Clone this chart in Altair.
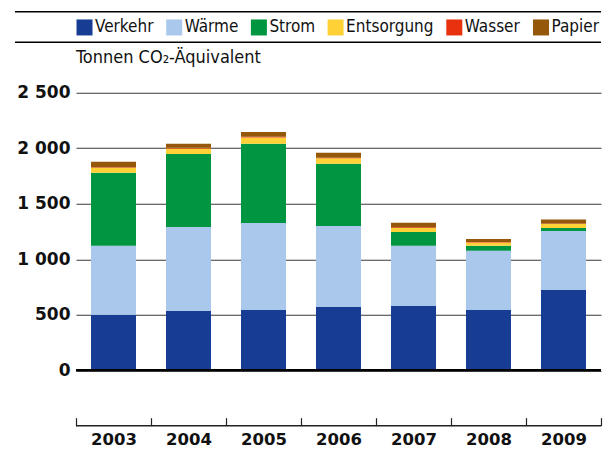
import altair as alt
import pandas as pd

years = ["2003", "2004", "2005", "2006", "2007", "2008", "2009"]
categories = ["Verkehr", "Wärme", "Strom", "Entsorgung", "Wasser", "Papier"]
colors = ["#173C94", "#AAC8EB", "#009540", "#FED136", "#E8320F", "#95570A"]

verkehr = [500, 535, 543, 570, 579, 543, 723]
waerme = [620, 755, 784, 730, 541, 532, 532]
strom = [658, 658, 712, 559, 126, 45, 27]
entsorgung = [45, 50, 58, 50, 36, 30, 36]
wasser = [5, 5, 5, 5, 6, 6, 3]
papier = [50, 37, 45, 45, 40, 27, 36]

y_ticks = [0, 500, 1000, 1500, 2000, 2500]
unit_label = "Tonnen CO₂-Äquivalent"

series = [verkehr, waerme, strom, entsorgung, wasser, papier]
rows = []
for ci, (cat, vals) in enumerate(zip(categories, series)):
    for y, v in zip(years, vals):
        rows.append({"Jahr": y, "Kategorie": cat, "Wert": v, "ord": ci})
df = pd.DataFrame(rows)

COND = "DejaVu Sans Condensed, Liberation Sans Narrow, DejaVu Sans, sans-serif"
BOLD = "DejaVu Sans"

W, H = 525, 333

bars = alt.Chart(df).mark_bar(size=45).encode(
    x=alt.X("Jahr:N", sort=years, title=None,
            scale=alt.Scale(paddingInner=0, paddingOuter=0),
            axis=alt.Axis(orient="bottom", domain=False, tickBand="extent",
                          tickSize=8, tickColor="#222", tickWidth=1.2,
                          offset=-8, labelAngle=0, labelPadding=6,
                          labelFont=BOLD, labelFontWeight="bold",
                          labelFontSize=16.5, labelColor="#111")),
    y=alt.Y("sum(Wert):Q", stack="zero", title=None,
            scale=alt.Scale(domain=[-500, 2500], nice=False, zero=False),
            axis=alt.Axis(values=y_ticks, domain=False, ticks=False, tickSize=0,
                          grid=True, gridColor="#3a3a3a", gridWidth=1.1,
                          labelPadding=6, labelFont=BOLD, labelFontWeight="bold",
                          labelFontSize=17, labelColor="#111",
                          labelExpr="replace(format(datum.value, ','), ',', ' ')")),
    color=alt.Color("Kategorie:N",
                    scale=alt.Scale(domain=categories, range=colors),
                    legend=alt.Legend(orient="none", legendX=0, legendY=-74,
                                      direction="horizontal", title=None,
                                      symbolType="square", symbolSize=256,
                                      symbolStrokeWidth=0, symbolOpacity=1,
                                      labelFont=COND, labelFontSize=17,
                                      labelColor="#111", labelOffset=2,
                                      columnPadding=11.7, labelLimit=200)),
    order=alt.Order("ord:Q", sort="ascending"),
)

one = pd.DataFrame({"v": [0]})

zero_rule = alt.Chart(one).mark_rule(color="#000", strokeWidth=2.5).encode(
    y=alt.datum(0), x=alt.value(0), x2=alt.value(W))
bottom_rule = alt.Chart(one).mark_rule(color="#222", strokeWidth=1.4).encode(
    y=alt.value(H), x=alt.value(0), x2=alt.value(W))
top_rule1 = alt.Chart(one).mark_rule(color="#000", strokeWidth=1.4).encode(
    y=alt.value(-81), x=alt.value(-61), x2=alt.value(W))
top_rule2 = alt.Chart(one).mark_rule(color="#000", strokeWidth=1.4).encode(
    y=alt.value(-50.5), x=alt.value(-61), x2=alt.value(W))
unit_text = alt.Chart(pd.DataFrame({"t": [unit_label]})).mark_text(
    align="left", baseline="middle", font=COND, fontSize=18, color="#111"
).encode(text="t:N", x=alt.value(0), y=alt.value(-35))

chart = alt.layer(bars, zero_rule, bottom_rule, top_rule1, top_rule2, unit_text).properties(
    width=W, height=H,
    autosize=alt.AutoSizeParams(type="none"),
    padding={"left": 68, "top": 84.7, "right": 7, "bottom": 25},
).configure_view(stroke=None).configure_axis(labelFontWeight="bold")

chart.save("out.html", embed_options={"renderer": "svg", "actions": False})
